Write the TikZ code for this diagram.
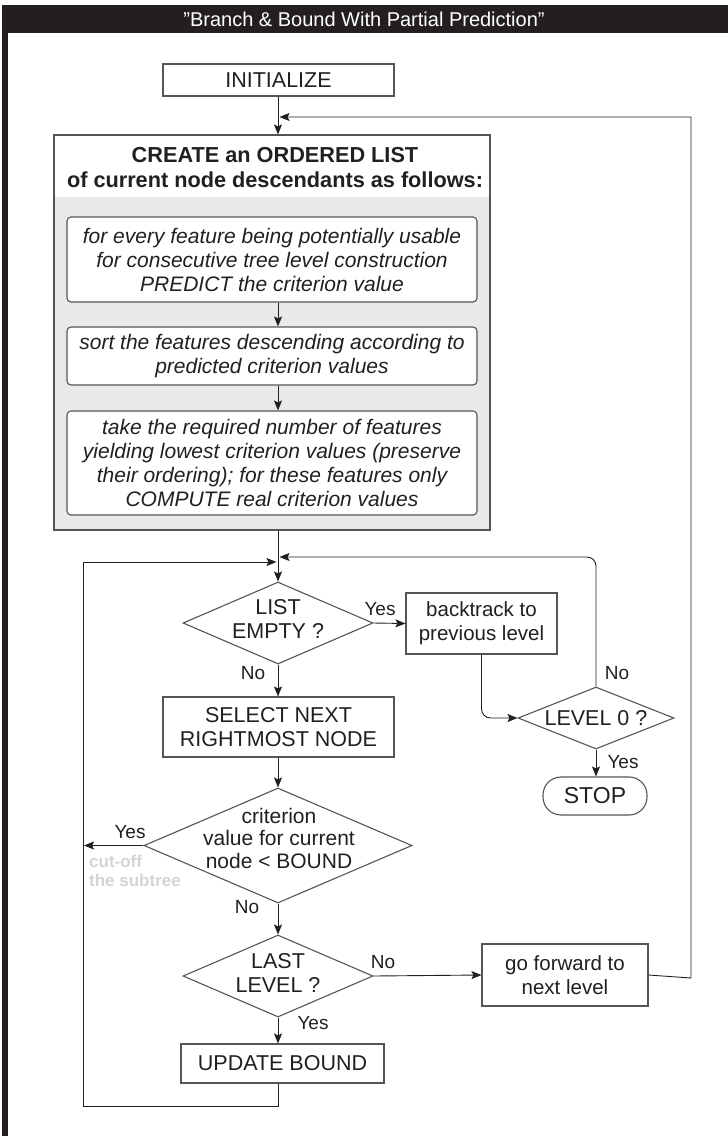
\documentclass[tikz,border=0pt]{standalone}
\usepackage{fontspec}
\setmainfont{Liberation Sans}
\usetikzlibrary{shapes.geometric,arrows.meta}
\definecolor{ink}{RGB}{35,31,32}
\definecolor{panel}{RGB}{232,234,233}
\definecolor{edge}{RGB}{85,85,85}
\definecolor{faint}{RGB}{212,212,212}
\begin{document}
\begin{tikzpicture}[x=1pt,y=-1pt,
  box/.style={draw=edge, line width=1.1pt, fill=white, inner sep=0pt, text=ink, align=center,
              font=\fontsize{21.5}{24.5}\selectfont},
  lowbox/.style={box, font=\fontsize{20.5}{24}\selectfont},
  sub/.style={draw=edge, line width=1.1pt, fill=white, rounded corners=4pt, inner sep=0pt,
              text=ink, align=center, font=\fontsize{21}{24}\selectfont\itshape},
  dia/.style={draw=edge, line width=1.1pt, diamond, inner sep=0pt, fill=white},
  dtext/.style={text=ink, align=center, inner sep=0pt, font=\fontsize{21.5}{24.5}\selectfont},
  lbl/.style={text=ink, inner sep=0pt, font=\fontsize{19}{22}\selectfont},
  conn/.style={draw=ink, line width=0.9pt},
  arr/.style={conn, -{Stealth[length=10pt,width=8pt,inset=2pt]}},
]
\useasboundingbox (0,0) rectangle (728,1136);
\fill[white] (0,0) rectangle (728,1136);
% frame
\fill[ink] (2,5) rectangle (728,33);
\fill[ink] (2,5) rectangle (8,1136);
\node[text=white, inner sep=0pt, font=\fontsize{20}{24}\selectfont] (title) at (364,19)
  {"Branch \& Bound With Partial Prediction”};

\coordinate (spine) at (278,0);

% initialize
\node[box, minimum width=231pt, minimum height=32pt] (init) at (278.5,80) {INITIALIZE};

% create list panel
\fill[panel] (54,197) rectangle (490,530);
\node[draw=edge, line width=1.1pt, minimum width=436pt, minimum height=395pt, inner sep=0pt] (create) at (272,332.5) {};
\node[text=ink, align=center, inner sep=0pt, font=\fontsize{21.7}{25}\selectfont\bfseries] (head) at (275,168)
  {CREATE an ORDERED LIST\\of current node descendants as follows:};

\node[sub, minimum width=410pt, minimum height=85pt] (sub1) at (272,259.5)
  {for every feature being potentially usable\\for consecutive tree level construction\\PREDICT the criterion value};
\node[sub, minimum width=410pt, minimum height=58pt] (sub2) at (272,356)
  {sort the features descending according to\\predicted criterion values};
\node[sub, minimum width=410pt, minimum height=104pt] (sub3) at (272,463)
  {take the required number of features\\yielding lowest criterion values (preserve\\their ordering); for these features only\\COMPUTE real criterion values};

% decision: list empty
\node[dia, minimum width=190pt, minimum height=82pt] (empty) at (278,623) {};
\node[dtext] (emptyt) at (278,619) {LIST\\EMPTY ?};

\node[lowbox, minimum width=151pt, minimum height=61pt] (back) at (481.5,623.5) {backtrack to\\previous level};

\node[dia, minimum width=156pt, minimum height=62pt] (lvl) at (596,718) {};
\node[dtext] (lvlt) at (596,718) {LEVEL 0 ?};

\node[box, rounded corners=18pt, minimum width=104pt, minimum height=38pt, font=\fontsize{23}{26}\selectfont] (stop) at (595,796) {STOP};

\node[box, minimum width=231pt, minimum height=60pt] (sel) at (278.5,727) {SELECT NEXT\\RIGHTMOST NODE};

\node[dia, minimum width=268pt, minimum height=115pt] (crit) at (278,845.5) {};
\node[dtext, font=\fontsize{21}{22.5}\selectfont] (critt) at (279,838) {criterion\\value for current\\node < BOUND};

\node[dia, minimum width=190pt, minimum height=82pt] (last) at (278,976) {};
\node[dtext] (lastt) at (278,973) {LAST\\LEVEL ?};

\node[lowbox, minimum width=166pt, minimum height=62pt] (fwd) at (565,975) {go forward to\\next level};

\node[box, minimum width=203pt, minimum height=39pt] (upd) at (282.5,1063.5) {UPDATE BOUND};

% labels
\node[lbl] (yes1) at (380,609) {Yes};
\node[lbl] (no1) at (253,673) {No};
\node[lbl] (no4) at (617,673) {No};
\node[lbl] (yes4) at (623,762) {Yes};
\node[lbl] (yes2) at (130,832) {Yes};
\node[lbl] (no2) at (247,907) {No};
\node[lbl] (no3) at (383,962) {No};
\node[lbl] (yes3) at (313,1023) {Yes};
\node[anchor=north west, inner sep=0pt, align=left, text=faint,
      font=\fontsize{17}{19}\selectfont\bfseries] (cut) at (89,855) {cut-off\\the subtree};

% junction points
\coordinate (m1) at (279.5,117);
\coordinate (m2) at (276.5,562);
\coordinate (m3) at (279.5,557);
\coordinate (cutend) at (84,845.5);

% connectors
\draw[arr] (init.south -| spine) -- (create.north -| spine);
\draw[arr] (sub1.south -| spine) -- (sub2.north -| spine);
\draw[arr] (sub2.south -| spine) -- (sub3.north -| spine);
\draw[arr] (create.south -| spine) -- (empty.north);
\draw[arr] (empty.east) -- (back.west);
\draw[arr] (empty.south) -- (sel.north -| spine);
\draw[arr] (sel.south -| spine) -- (crit.north);
\draw[arr] (crit.west) -- (cutend);
\draw[arr] (crit.south) -- (last.north);
\draw[arr] (last.east) -- (fwd.west);
\draw[arr] (last.south) -- (upd.north -| spine);
\draw[arr] (lvl.south) -- (stop.north -| lvl.south);
\draw[arr, rounded corners=9pt] (back.south) -- (back.south |- lvl.west) -- (lvl.west);
\draw[arr, rounded corners=9pt] (lvl.north) -- (lvl.north |- m3) -- (m3);
\draw[arr] (fwd.east) -- (691,978) -- (691,117) -- (m1);
\draw[arr] (upd.south -| spine) -- (278,1106) -- (83,1106) -- (83,562) -- (m2);
\end{tikzpicture}
\end{document}
